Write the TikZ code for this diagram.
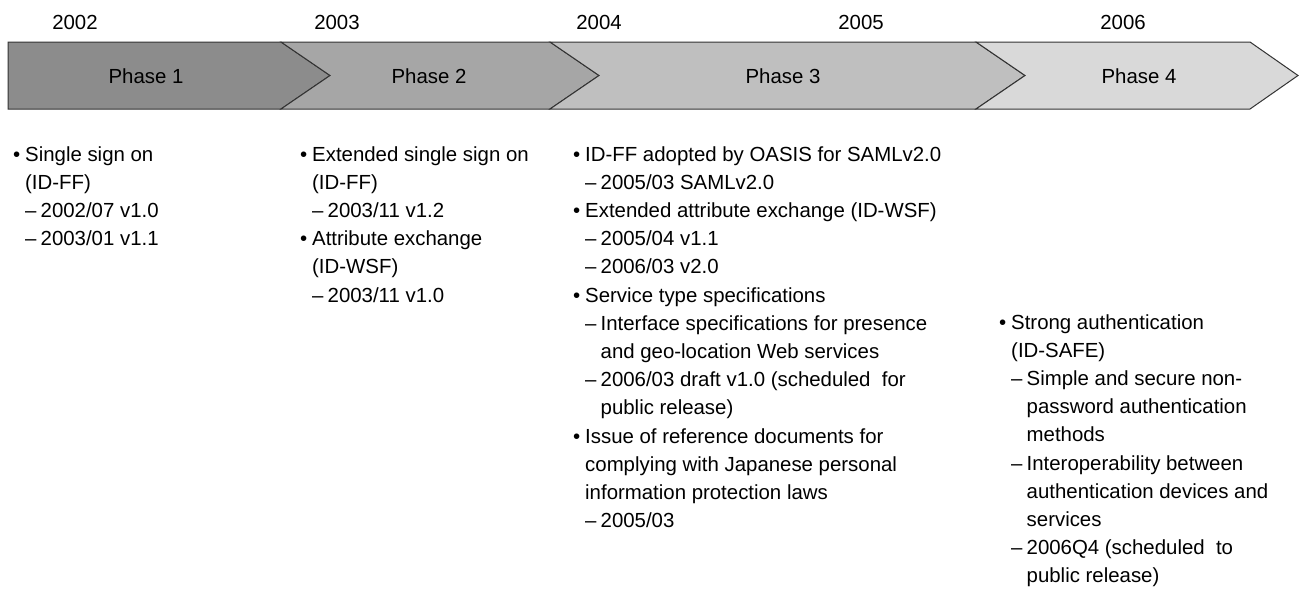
\documentclass[tikz,border=0pt]{standalone}
\usepackage{fontspec}
\setmainfont{Liberation Sans}
\definecolor{phA}{HTML}{8C8C8C}
\definecolor{phB}{HTML}{A6A6A6}
\definecolor{phC}{HTML}{BFBFBF}
\definecolor{phD}{HTML}{D9D9D9}
\definecolor{edge}{HTML}{333333}
\newcommand\bul{\leavevmode\llap{\textbullet\hspace{5pt}}}
\newcommand\dsh{\makebox[15.5pt][l]{–}}
\newcommand\hang{\hspace*{15.5pt}}
\begin{document}
\begin{tikzpicture}[x=1pt,y=-1pt,
  chev/.style={draw=edge, line width=1pt, line join=miter},
  lbl/.style={inner sep=0pt, font=\fontsize{20.4}{24}\selectfont},
  col/.style={anchor=base west, inner sep=0pt, font=\fontsize{20.4}{28.2}\selectfont}]
\useasboundingbox[fill=white] (0,0) rectangle (1300,589);
% chevrons
\path[chev, fill=phA] (8,42) -- (281,42) -- (330,75.5) -- (281,109) -- (8,109) -- cycle;
\path[chev, fill=phB] (281,42) -- (550,42) -- (599,75.5) -- (550,109) -- (281,109) -- (330,75.5) -- cycle;
\path[chev, fill=phC] (550,42) -- (976,42) -- (1025,75.5) -- (976,109) -- (550,109) -- (599,75.5) -- cycle;
\path[chev, fill=phD] (976,42) -- (1250,42) -- (1298,75.5) -- (1250,109) -- (976,109) -- (1025,75.5) -- cycle;
% phase labels
\node[lbl] (p1) at (146,76) {Phase 1};
\node[lbl] (p2) at (429,76) {Phase 2};
\node[lbl] (p3) at (783,76) {Phase 3};
\node[lbl] (p4) at (1139,76) {Phase 4};
% years
\node[lbl] (y2002) at (75,22) {2002};
\node[lbl] (y2003) at (337,22) {2003};
\node[lbl] (y2004) at (599,22) {2004};
\node[lbl] (y2005) at (861,22) {2005};
\node[lbl] (y2006) at (1123,22) {2006};
% columns
\node[col] (c1) at (25,161) {\parbox[t]{250pt}{\raggedright
\bul Single sign on\\
(ID-FF)\\
\dsh 2002/07 v1.0\\
\dsh 2003/01 v1.1}};
\node[col] (c2) at (312,161) {\parbox[t]{260pt}{\raggedright
\bul Extended single sign on\\
(ID-FF)\\
\dsh 2003/11 v1.2\\
\bul Attribute exchange\\
(ID-WSF)\\
\dsh 2003/11 v1.0}};
\node[col] (c3) at (585,161) {\parbox[t]{420pt}{\raggedright
\bul ID-FF adopted by OASIS for SAMLv2.0\\
\dsh 2005/03 SAMLv2.0\\
\bul Extended attribute exchange (ID-WSF)\\
\dsh 2005/04 v1.1\\
\dsh 2006/03 v2.0\\
\bul Service type specifications\\
\dsh Interface specifications for presence\\
\hang and geo-location Web services\\
\dsh 2006/03 draft v1.0 (scheduled~ for\\
\hang public release)\\
\bul Issue of reference documents for\\
complying with Japanese personal\\
information protection laws\\
\dsh 2005/03}};
\node[col] (c4) at (1011,329) {\parbox[t]{285pt}{\raggedright
\bul Strong authentication\\
(ID-SAFE)\\
\dsh Simple and secure non-\\
\hang password authentication\\
\hang methods\\
\dsh Interoperability between\\
\hang authentication devices and\\
\hang services\\
\dsh 2006Q4 (scheduled~ to\\
\hang public release)}};
\end{tikzpicture}
\end{document}
